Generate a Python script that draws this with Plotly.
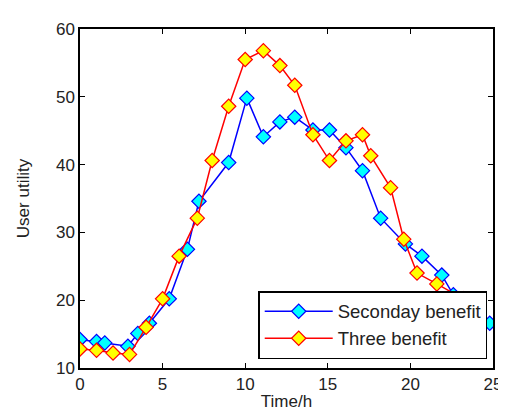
import plotly.graph_objects as go

# Seconday benefit series
sec_x = [0, 1.0, 1.5, 2.9, 3.5, 4.2, 5.4, 6.5, 7.2, 9.0, 10.1, 11.1, 12.1, 13.0,
         14.1, 15.1, 16.1, 17.1, 18.2, 19.7, 20.7, 21.9, 22.6, 23.7, 24.8]
sec_y = [14.2, 13.9, 13.7, 13.2, 15.1, 16.6, 20.2, 27.5, 34.6, 40.3, 49.8, 44.1, 46.3, 47.0,
         45.1, 45.1, 42.5, 39.1, 32.1, 28.3, 26.5, 23.7, 20.8, 18.5, 16.6]

# Three benefit series
thr_x = [0, 1.0, 2.0, 3.0, 4.0, 5.0, 6.0, 7.1, 8.0, 9.0, 10.0, 11.1, 12.1, 13.0,
         14.1, 15.1, 16.1, 17.1, 17.6, 18.8, 19.6, 20.4, 21.6, 23.2]
thr_y = [12.8, 12.6, 12.2, 12.0, 16.0, 20.2, 26.5, 32.1, 40.6, 48.6, 55.5, 56.8, 54.6, 51.7,
         44.4, 40.6, 43.5, 44.4, 41.3, 36.6, 29.0, 24.0, 22.4, 20.2]

x_ticks = [0, 5, 10, 15, 20, 25]
y_ticks = [10, 20, 30, 40, 50, 60]

FONT = "Arial, Liberation Sans, sans-serif"

fig = go.Figure()
fig.add_trace(go.Scatter(
    x=sec_x, y=sec_y, mode="lines+markers", name="Seconday benefit",
    line=dict(color="#0000FF", width=1.5),
    marker=dict(symbol="diamond", size=11, color="#00FFFF",
                line=dict(color="#0000FF", width=1.2)),
))
fig.add_trace(go.Scatter(
    x=thr_x, y=thr_y, mode="lines+markers", name="Three benefit",
    line=dict(color="#FF0000", width=1.5),
    marker=dict(symbol="diamond", size=11, color="#FFFF00",
                line=dict(color="#FF0000", width=1.2)),
))

axis_common = dict(
    showline=True, linecolor="black", linewidth=1.5, mirror="ticks",
    ticks="inside", ticklen=5, tickcolor="black", tickwidth=1,
    showgrid=False, zeroline=False,
    tickfont=dict(family=FONT, size=17, color="#222222"),
)

fig.update_layout(
    width=506, height=412,
    margin=dict(l=72, r=14, t=20, b=50),
    paper_bgcolor="white", plot_bgcolor="white",
    font=dict(family=FONT, color="#222222"),
    xaxis=dict(range=[0, 25], tickvals=x_ticks,
               title=dict(text="Time/h", font=dict(family=FONT, size=17), standoff=2),
               **axis_common),
    yaxis=dict(range=[10, 60], tickvals=y_ticks,
               title=dict(text="User utility", font=dict(family=FONT, size=17), standoff=22),
               **axis_common),
    legend=dict(
        x=0.986, y=0.026, xanchor="right", yanchor="bottom",
        bgcolor="white", bordercolor="black", borderwidth=1.5,
        font=dict(family=FONT, size=18.5, color="#222222"),
        itemwidth=68, tracegroupgap=0,
    ),
    showlegend=True,
)

fig.write_html("out.html")
